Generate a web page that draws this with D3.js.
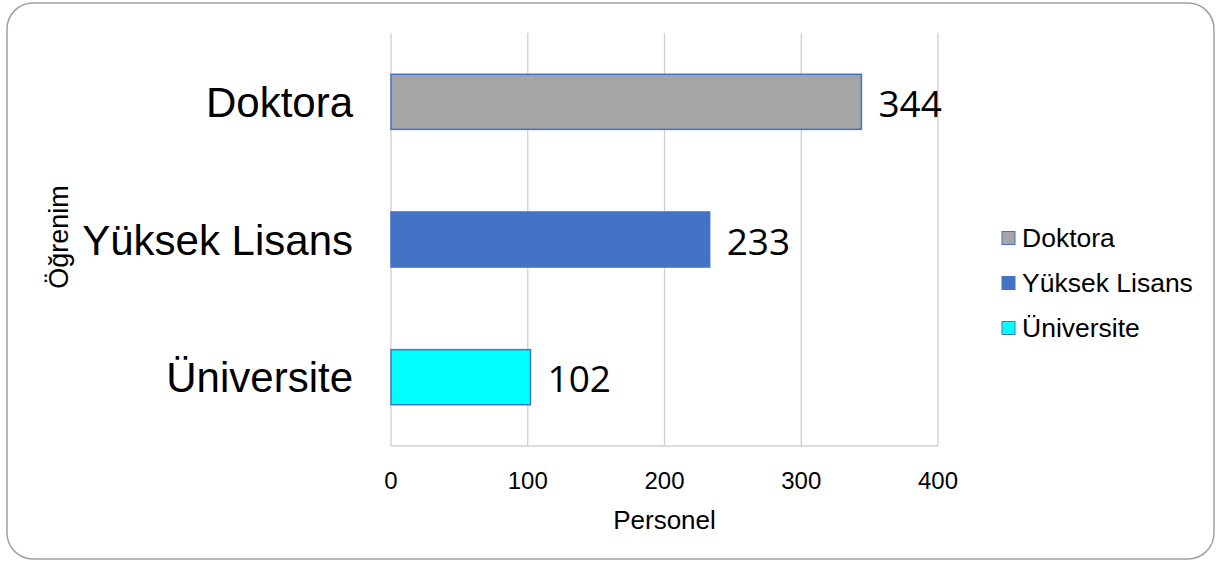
<!DOCTYPE html>
<html>
<head>
<meta charset="utf-8">
<script src="https://cdn.jsdelivr.net/npm/d3@7"></script>
<style>
  body { margin: 0; background: #fff; }
  text { font-family: Arial, "Liberation Sans", sans-serif; fill: #000; }
</style>
</head>
<body>
<script>
// data
var categories = ["Doktora", "Yüksek Lisans", "Üniversite"];
var values = [344, 233, 102];
var colors = ["#a5a5a5", "#4472c4", "#00ffff"];
var ticks = [0, 100, 200, 300, 400];

var W = 1221, H = 563;
var plotLeft = 391, plotRight = 938, plotTop = 33, plotBottom = 446;

var svg = d3.select("body").append("svg")
  .attr("width", W)
  .attr("height", H);

// frame
svg.append("rect")
  .attr("x", 7).attr("y", 3)
  .attr("width", 1207).attr("height", 556)
  .attr("rx", 26).attr("ry", 26)
  .attr("fill", "#fff")
  .attr("stroke", "#a0a0a0")
  .attr("stroke-width", 1.5);

var x = d3.scaleLinear().domain([0, 400]).range([plotLeft, plotRight]);
var y = d3.scaleBand().domain(categories).range([plotTop, plotBottom]).paddingInner(0.6).paddingOuter(0.3);

// gridlines
svg.selectAll("line.grid")
  .data(ticks)
  .enter()
  .append("line")
  .attr("class", "grid")
  .attr("x1", d => x(d)).attr("x2", d => x(d))
  .attr("y1", plotTop).attr("y2", plotBottom)
  .attr("stroke", "#d0d0d0")
  .attr("stroke-width", 1.3);

svg.append("line")
  .attr("x1", plotLeft).attr("x2", plotRight)
  .attr("y1", plotBottom).attr("y2", plotBottom)
  .attr("stroke", "#d0d0d0")
  .attr("stroke-width", 1.3);

// tick labels
svg.selectAll("text.tick")
  .data(ticks)
  .enter()
  .append("text")
  .attr("class", "tick")
  .attr("x", d => x(d))
  .attr("y", 489)
  .attr("text-anchor", "middle")
  .style("font-size", "24px")
  .text(d => d);

// bars
svg.selectAll("rect.bar")
  .data(values)
  .enter()
  .append("rect")
  .attr("class", "bar")
  .attr("x", x(0))
  .attr("y", (d, i) => y(categories[i]))
  .attr("width", d => x(d) - x(0))
  .attr("height", y.bandwidth())
  .attr("fill", (d, i) => colors[i])
  .attr("stroke", "#4472c4")
  .attr("stroke-width", 1.5);

// value labels
svg.selectAll("text.val")
  .data(values)
  .enter()
  .append("text")
  .attr("class", "val")
  .attr("x", d => x(d) + 17)
  .attr("y", (d, i) => y(categories[i]) + y.bandwidth() / 2 + 15)
  .style("font-family", "'Open Sans', sans-serif")
  .style("font-size", "37px")
  .text(d => d);

// category labels
svg.selectAll("text.cat")
  .data(categories)
  .enter()
  .append("text")
  .attr("class", "cat")
  .attr("x", 353)
  .attr("y", d => y(d) + y.bandwidth() / 2 + 15)
  .attr("text-anchor", "end")
  .style("font-size", "42px")
  .text(d => d);

// axis titles
svg.append("text")
  .attr("x", (plotLeft + plotRight) / 2)
  .attr("y", 529)
  .attr("text-anchor", "middle")
  .style("font-size", "26px")
  .text("Personel");

svg.append("text")
  .attr("transform", "translate(68,237) rotate(-90)")
  .attr("text-anchor", "middle")
  .style("font-size", "27px")
  .text("Öğrenim");

// legend
var legend = svg.selectAll("g.leg")
  .data(categories)
  .enter()
  .append("g")
  .attr("class", "leg")
  .attr("transform", (d, i) => "translate(1002," + (238 + i * 45) + ")");

legend.append("rect")
  .attr("x", 0).attr("y", -6.5)
  .attr("width", 13).attr("height", 13)
  .attr("fill", (d, i) => colors[i])
  .attr("stroke", "#4472c4")
  .attr("stroke-width", 1);

legend.append("text")
  .attr("x", 20)
  .attr("y", 9)
  .style("font-size", "26.5px")
  .text(d => d);
</script>
</body>
</html>
